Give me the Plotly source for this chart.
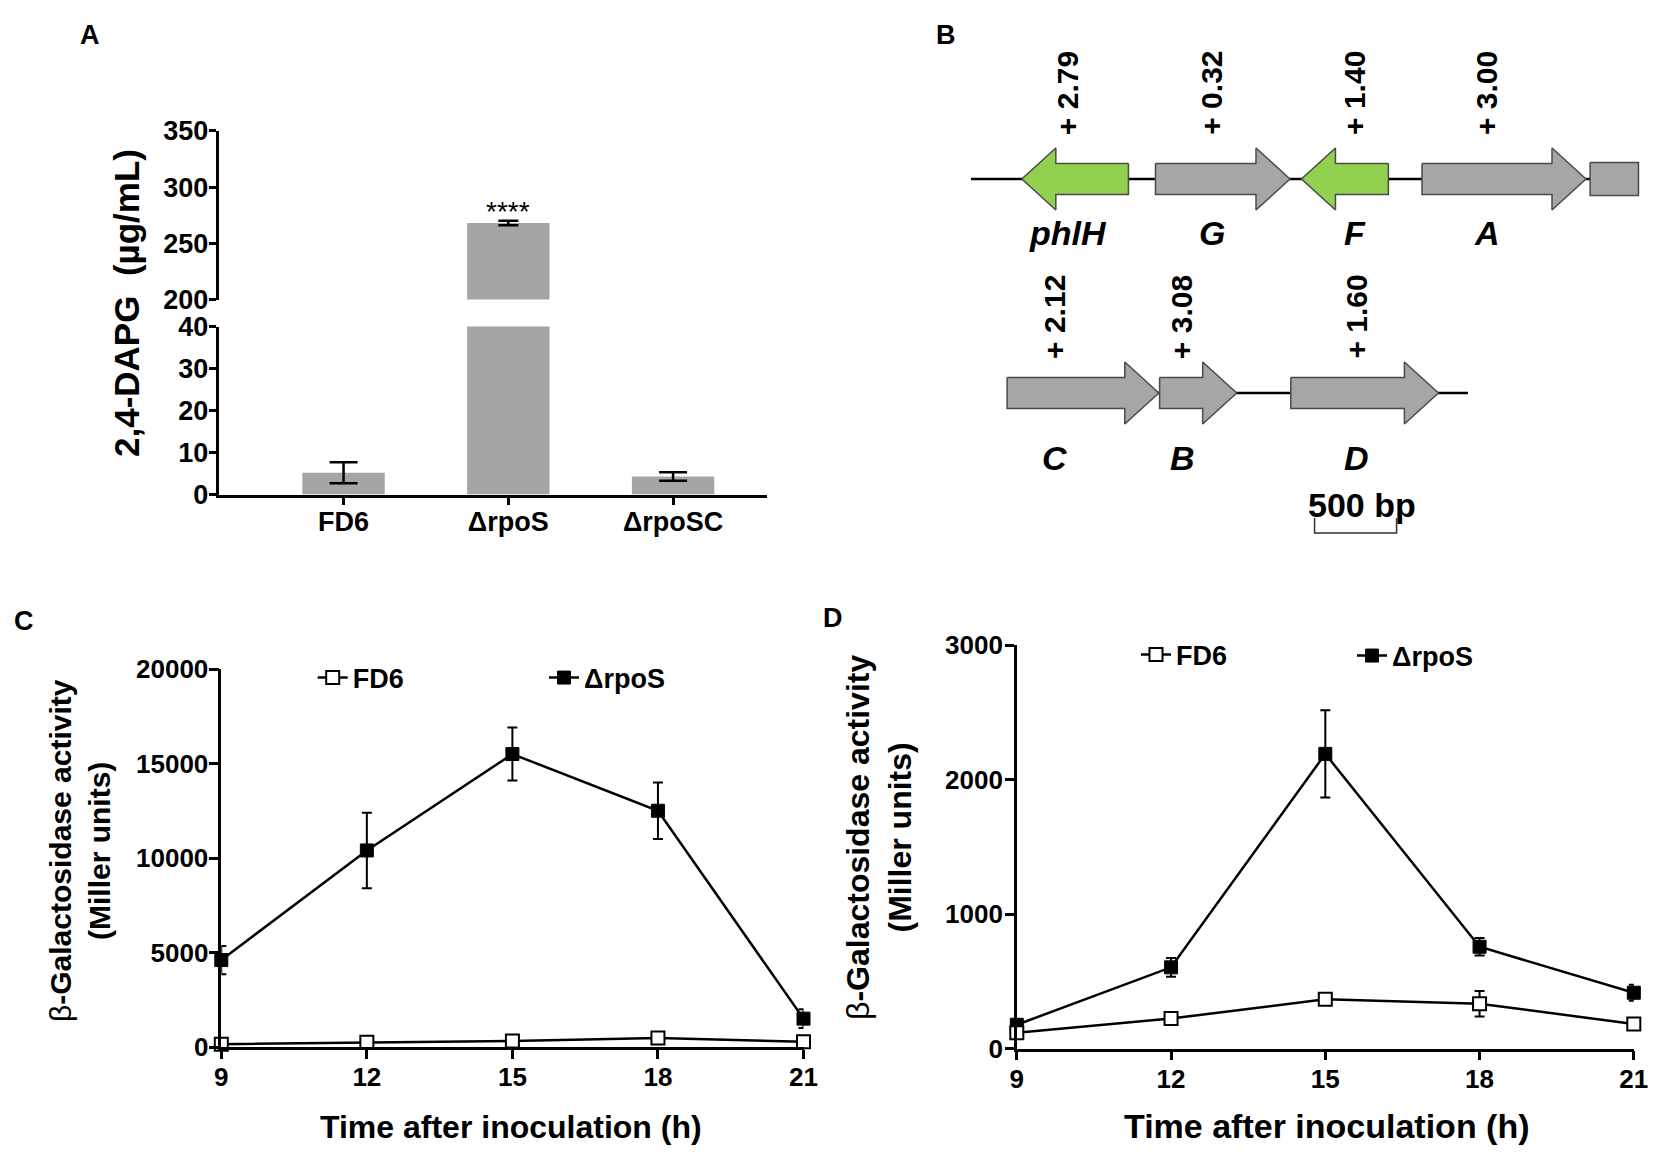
import plotly.graph_objects as go

# ---------------- data ----------------
# Panel A: 2,4-DAPG production
strains = ["FD6", "ΔrpoS", "ΔrpoSC"]
dapg_mean = [5.2, 268.0, 4.3]
dapg_err = [2.5, 2.0, 1.0]
dapg_low_ticks = [0, 10, 20, 30, 40]
dapg_high_ticks = [200, 250, 300, 350]
dapg_sig = "****"
dapg_sig_strain = "ΔrpoS"

# Panel B: phl gene cluster (bp), fold change of expression
gene_names = ["phlH", "G", "F", "A", "", "C", "B", "D"]
gene_start = [560, 1375, 2265, 3000, 4025, 470, 1400, 2200]
gene_end = [1210, 2195, 2795, 4000, 4320, 1395, 1870, 3100]
gene_strand = [-1, 1, -1, 1, 0, 1, 1, 1]
gene_row = [0, 0, 0, 0, 0, 1, 1, 1]
gene_fold = [2.79, 0.32, 1.40, 3.00, None, 2.12, 3.08, 1.60]
backbone_start = [250, 470]
backbone_end = [4320, 3280]
scale_bar_bp = 500
scale_bar_start = 2345

# Panels C and D: beta-galactosidase activity (Miller units)
time_h = [9, 12, 15, 18, 21]
time_ticks = [9, 12, 15, 18, 21]
c_fd6 = [150, 250, 320, 480, 280]
c_fd6_err = [50, 80, 60, 120, 60]
c_rpos = [4600, 10400, 15500, 12500, 1500]
c_rpos_err = [750, 2000, 1400, 1500, 500]
c_ticks = [0, 5000, 10000, 15000, 20000]
d_fd6 = [118, 224, 368, 334, 184]
d_fd6_err = [20, 30, 20, 95, 20]
d_rpos = [178, 605, 2192, 758, 416]
d_rpos_err = [30, 70, 325, 65, 60]
d_ticks = [0, 1000, 2000, 3000]
series_names = ["FD6", "ΔrpoS"]

# ---------------- style ----------------
W, H = 1654, 1154
FONT = "Liberation Sans, Arial, Helvetica, sans-serif"


def px(x):
    return x / W


def py(y):
    return 1 - y / H


def bfont(size, color="black"):
    return dict(family=FONT, size=size, color=color, weight="bold")


BAR_GRAY = "#a5a5a8"
GENE_GRAY = "#a6a6a6"
GENE_GREEN = "#92d050"
GENE_EDGE = "#4a4a4a"
LW = 2.5

fig = go.Figure()

axis_common = dict(
    showline=True, linecolor="black", linewidth=LW, ticks="outside",
    tickcolor="black", tickwidth=LW, showgrid=False, zeroline=False,
    fixedrange=True, automargin=False,
)

# ---------------- Panel A ----------------
for yax, ew in (("y", 14), ("y2", 10)):
    fig.add_trace(go.Bar(
        x=strains, y=dapg_mean, xaxis="x", yaxis=yax, width=0.5,
        marker=dict(color=BAR_GRAY, line=dict(width=0)),
        error_y=dict(type="data", array=dapg_err, color="black",
                     thickness=2.5, width=ew),
        showlegend=False, hoverinfo="x+y",
    ))

fig.update_layout(
    xaxis=dict(axis_common, domain=[px(218.5), px(767)], range=[-0.759, 2.57],
               type="category", anchor="y", ticklen=8,
               ticklabelstandoff=-7, tickfont=bfont(27)),
    yaxis=dict(axis_common, domain=[py(494.6), py(326.5)], range=[0, 40],
               anchor="x", tickvals=dapg_low_ticks, ticklen=7,
               ticklabelstandoff=-5, tickfont=bfont(27)),
    yaxis2=dict(axis_common, domain=[py(299.6), py(130.9)], range=[200, 350],
                anchor="x", tickvals=dapg_high_ticks, ticklen=7,
                ticklabelstandoff=-5, tickfont=bfont(27)),
    barmode="overlay",
)

annotations = []
annotations.append(dict(
    x=dapg_sig_strain, y=dapg_mean[strains.index(dapg_sig_strain)] - 5,
    xref="x", yref="y2", text=dapg_sig, showarrow=False,
    xanchor="center", yanchor="bottom",
    font=dict(family=FONT, size=28, color="black"),
))


def paper_text(text, x, y, size, angle=0):
    return dict(x=px(x), y=py(y), xref="paper", yref="paper", text=text,
                textangle=angle, showarrow=False, xanchor="center",
                yanchor="middle", font=bfont(size))


annotations.append(paper_text("2,4-DAPG\u00a0\u00a0(µg/mL)", 126, 303, 35, -90))

# ---------------- Panel B ----------------
BP_PER_PX = 500 / 82
row_y = [179, 393]
BODY = 15.5
HEAD = 31
HEAD_BP = 34 * BP_PER_PX
fold_gap = [42, 32]
name_gap = [54, 65]
label_dx = [-7, -11, 10, -17, 0, -28, -16, -8]

fig.update_layout(
    xaxis5=dict(domain=[px(930), 1.0], range=[0, (W - 930) * BP_PER_PX],
                visible=False, anchor="y5", fixedrange=True),
    yaxis5=dict(domain=[py(560), py(20)], range=[560, 20],
                visible=False, anchor="x5", fixedrange=True),
)

for r in range(len(backbone_start)):
    fig.add_trace(go.Scatter(
        x=[backbone_start[r], backbone_end[r]], y=[row_y[r], row_y[r]],
        mode="lines", line=dict(color="black", width=2.5),
        xaxis="x5", yaxis="y5", showlegend=False, hoverinfo="skip",
    ))

for i, name in enumerate(gene_names):
    s, e, st = gene_start[i], gene_end[i], gene_strand[i]
    yc = row_y[gene_row[i]]
    if st == 1:
        hb = e - HEAD_BP
        xs = [s, hb, hb, e, hb, hb, s, s]
        ys = [yc - BODY, yc - BODY, yc - HEAD, yc, yc + HEAD, yc + BODY,
              yc + BODY, yc - BODY]
    elif st == -1:
        hb = s + HEAD_BP
        xs = [e, hb, hb, s, hb, hb, e, e]
        ys = [yc - BODY, yc - BODY, yc - HEAD, yc, yc + HEAD, yc + BODY,
              yc + BODY, yc - BODY]
    else:
        xs = [s, e, e, s, s]
        ys = [yc - BODY - 1, yc - BODY - 1, yc + BODY + 1, yc + BODY + 1,
              yc - BODY - 1]
    fill = GENE_GREEN if st == -1 else GENE_GRAY
    fig.add_trace(go.Scatter(
        x=xs, y=ys, mode="lines", fill="toself", fillcolor=fill,
        line=dict(color=GENE_EDGE, width=1.5), xaxis="x5", yaxis="y5",
        showlegend=False, hoverinfo="text", text=name,
    ))
    xc = (s + e) / 2
    if name:
        annotations.append(dict(
            x=xc, y=yc + name_gap[gene_row[i]], xref="x5", yref="y5",
            xshift=label_dx[i], text=f"<i>{name}</i>", showarrow=False,
            xanchor="center", yanchor="middle", font=bfont(34),
        ))
    if gene_fold[i] is not None:
        annotations.append(dict(
            x=xc, y=yc - fold_gap[gene_row[i]], xref="x5", yref="y5",
            xshift=label_dx[i], text=f"+ {gene_fold[i]:.2f}", textangle=-90,
            showarrow=False, xanchor="center", yanchor="bottom",
            font=bfont(30),
        ))

# scale bar
fig.add_trace(go.Scatter(
    x=[scale_bar_start, scale_bar_start, scale_bar_start + scale_bar_bp,
       scale_bar_start + scale_bar_bp],
    y=[518, 533, 533, 518], mode="lines",
    line=dict(color="#333333", width=1.5), xaxis="x5", yaxis="y5",
    showlegend=False, hoverinfo="skip",
))
annotations.append(dict(
    x=scale_bar_start + scale_bar_bp / 2, y=505, xref="x5", yref="y5",
    xshift=6, text=f"{scale_bar_bp} bp", showarrow=False,
    xanchor="center", yanchor="middle", font=bfont(34),
))

# ---------------- Panels C and D ----------------
def add_series(xa, ya, fd, fde, rp, rpe, lg1, lg2):
    fig.add_trace(go.Scatter(
        x=time_h, y=rp, mode="lines+markers", xaxis=xa, yaxis=ya,
        name=series_names[1], legend=lg2,
        line=dict(color="black", width=2.5),
        marker=dict(symbol="square", size=13, color="black",
                    line=dict(color="black", width=1)),
        error_y=dict(type="data", array=rpe, color="black", thickness=2,
                     width=5),
        cliponaxis=False,
    ))
    fig.add_trace(go.Scatter(
        x=time_h, y=fd, mode="lines+markers", xaxis=xa, yaxis=ya,
        name=series_names[0], legend=lg1,
        line=dict(color="black", width=2.5),
        marker=dict(symbol="square", size=13, color="white",
                    line=dict(color="black", width=2)),
        error_y=dict(type="data", array=fde, color="black", thickness=2,
                     width=5),
        cliponaxis=False,
    ))


add_series("x3", "y3", c_fd6, c_fd6_err, c_rpos, c_rpos_err,
           "legend", "legend2")
add_series("x4", "y4", d_fd6, d_fd6_err, d_rpos, d_rpos_err,
           "legend3", "legend4")

fig.update_layout(
    xaxis3=dict(axis_common, domain=[px(221.3), px(803.5)], range=[9, 21],
                anchor="y3", tickvals=time_ticks, ticklen=9,
                ticklabelstandoff=-4, tickfont=bfont(26)),
    yaxis3=dict(axis_common, domain=[py(1047), py(669)], range=[0, 20000],
                anchor="x3", tickvals=c_ticks, ticklen=10,
                ticklabelstandoff=-5, tickfont=bfont(26), tickformat="d"),
    xaxis4=dict(axis_common, domain=[px(1016.8), px(1633.8)], range=[9, 21],
                anchor="y4", tickvals=time_ticks, ticklen=9,
                ticklabelstandoff=-4, tickfont=bfont(26)),
    yaxis4=dict(axis_common, domain=[py(1048.7), py(645.2)], range=[0, 3000],
                anchor="x4", tickvals=d_ticks, ticklen=9,
                ticklabelstandoff=-3, tickfont=bfont(26), tickformat="d"),
)


def legend_at(mx, my):
    return dict(x=px(mx - 19), y=py(my), xanchor="left", yanchor="middle",
                bgcolor="rgba(0,0,0,0)", borderwidth=0, font=bfont(27),
                orientation="h", itemclick=False, itemdoubleclick=False)


fig.update_layout(
    legend=legend_at(331.7, 678),
    legend2=legend_at(563, 678),
    legend3=legend_at(1155, 655),
    legend4=legend_at(1371, 656),
)

beta_title = ("<span style='font-weight:normal'>β</span>-Galactosidase "
              "activity<br>(Miller units)")
annotations += [
    paper_text(beta_title, 80, 851, 30, -90),
    paper_text(beta_title, 879, 838, 32, -90),
    paper_text("Time after inoculation (h)", 511, 1127, 32),
    paper_text("Time after inoculation (h)", 1327, 1126, 34),
]

# panel letters
for letter, lx, ly in (("A", 90, 35), ("B", 946, 35), ("C", 24, 621),
                       ("D", 833, 618)):
    annotations.append(paper_text(letter, lx, ly, 27))

fig.update_layout(
    template="none",
    width=W, height=H,
    margin=dict(l=0, r=0, t=0, b=0, pad=0, autoexpand=False),
    paper_bgcolor="white", plot_bgcolor="rgba(0,0,0,0)",
    annotations=annotations, font=dict(family=FONT, color="black"),
)

fig.write_html(
    "out.html",
    config={"displayModeBar": False, "staticPlot": False},
    post_script="document.body.style.margin='0';"
                "document.body.style.padding='0';",
)
